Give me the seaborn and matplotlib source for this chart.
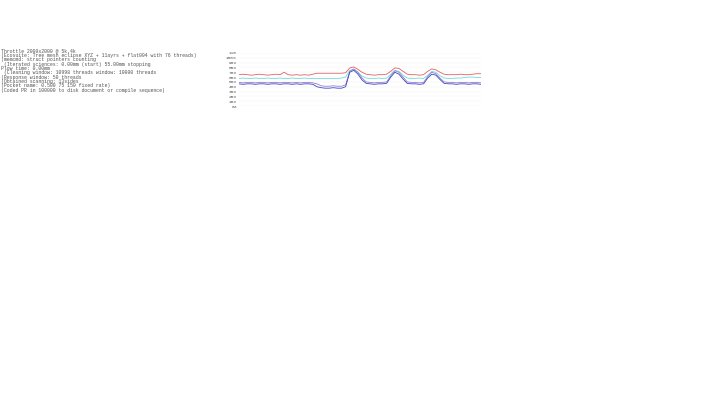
import matplotlib
matplotlib.use("Agg")
import matplotlib.pyplot as plt
import seaborn as sns
import pandas as pd
import numpy as np

# ---- data ----
text_lines = [
    "Throttle 2000x2000 @ 5k.4k",
    "(Ecosuite: Tree mesh eclipse XYZ + 11ayrs + flat004 with 76 threads)",
    "(memcmd: struct pointers counting",
    " (Iterated sciences: 0.00mm (start) 55.00mm stopping",
    "Plow time: 0.00mm",
    " (Cleaning window: 10998 threads window: 10000 threads",
    "(Response window: 50 threads",
    "(Obtained scanning: 13sides",
    "(Pocket name: 0.500 75 150 fixed rate)",
    "(Coded PR in 100000 to disk document or compile sequence)",
]

y_ticks = [0, 10, 20, 30, 40, 50, 60, 70, 80, 90, 100, 110]
y_tick_labels = ["0%", "10%", "20%", "30%", "40%", "50%", "60%", "70%", "80%", "90%", "100%", "110"]

red = [65,66,65,64,65,66,65,64,65,66,
       65,70,65,64,65,64,65,64,66,68,
       68,68,68,68,68,68,69,79,81,76,
       70,66,65,64,65,65,66,72,79,78,
       72,66,65,65,64,65,72,77,75,70,
       66,65,65,65,66,65,65,66,67,67]
cyan = [57,58,57,57,58,57,57,58,57,57,
        58,57,57,58,57,57,58,57,57,57,
        57,57,57,57,57,58,60,74,76,70,
        62,58,57,57,58,57,58,66,74,72,
        64,58,57,57,58,57,64,72,70,63,
        58,57,57,58,58,59,60,60,59,59]
blue = [46,45,46,46,45,46,46,45,46,46,
        45,46,46,45,46,45,46,46,45,40,
        38,37,37,38,37,37,40,70,74,66,
        54,47,46,45,46,46,47,60,70,66,
        56,47,46,46,45,46,58,66,64,55,
        47,46,46,45,46,46,45,46,46,45]
purple = [49,48,49,49,48,49,49,48,49,49,
          48,49,49,48,49,48,49,49,48,46,
          42,41,41,42,41,41,44,72,77,70,
          58,50,49,48,49,49,50,63,73,70,
          60,50,49,49,48,49,61,70,67,58,
          50,49,49,48,49,49,48,49,49,48]

series = {"red": red, "cyan": cyan, "purple": purple, "blue": blue}
colors = {"red": "#e06060", "cyan": "#70dede", "purple": "#9a7ad0", "blue": "#3848c8"}

rows = []
for name, vals in series.items():
    for i, v in enumerate(vals):
        rows.append({"t": i, "value": v, "series": name})
df = pd.DataFrame(rows)

sns.set_theme(style="white")
plt.rcParams["font.family"] = ["Liberation Mono", "DejaVu Sans Mono"]

fig = plt.figure(figsize=(7.2, 4.04), dpi=100)
fig.patch.set_facecolor("white")

# text block
y0 = 404 - 51
for k, line in enumerate(text_lines):
    fig.text(1 / 720, (y0 - k * 4.35) / 404, line, fontsize=3.5, color="#555555",
             va="center", ha="left", family=["Liberation Mono", "DejaVu Sans Mono"])

ax = fig.add_axes([239 / 720, (404 - 106) / 404, (481 - 239) / 720, (106 - 53) / 404])
sns.lineplot(data=df, x="t", y="value", hue="series", palette=colors, ax=ax,
             linewidth=0.6, legend=False)
ax.set_xlim(0, len(red) - 1)
ax.set_ylim(0, 110)
ax.set_yticks(y_ticks)
ax.set_yticklabels(y_tick_labels, fontsize=3.2, color="#555555")
ax.set_xticks([])
ax.set_xlabel("")
ax.set_ylabel("")
ax.tick_params(axis="y", length=1.0, width=0.3, pad=0.8, colors="#888888", labelcolor="#555555")
for s in ax.spines.values():
    s.set_visible(False)
ax.grid(axis="y", color="#f0f0f0", linewidth=0.3)
ax.set_facecolor("white")

fig.savefig("out.png", dpi=100, facecolor="white")
